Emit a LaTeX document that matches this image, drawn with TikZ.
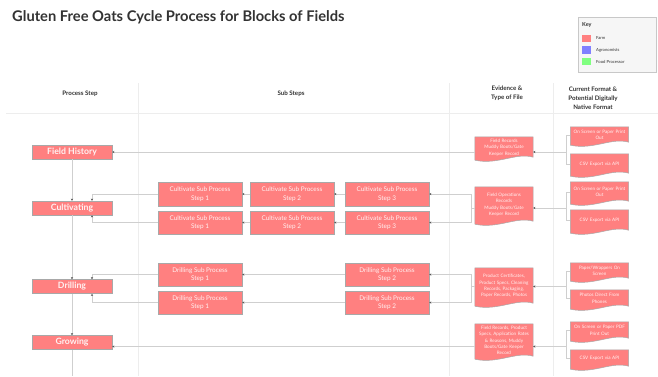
\documentclass[tikz,border=0pt]{standalone}
\usepackage{fontspec}
\setmainfont{Lato}
\usetikzlibrary{arrows.meta,calc}
\definecolor{farm}{HTML}{FF8080}
\definecolor{agro}{HTML}{8080FF}
\definecolor{food}{HTML}{80FF80}
\definecolor{boxline}{HTML}{A8A8A8}
\definecolor{boxtext}{HTML}{FFF2F2}
\definecolor{linegray}{HTML}{CFCFCF}
\definecolor{colgray}{HTML}{EDEDED}
\definecolor{tipgray}{HTML}{555555}
\definecolor{headtext}{HTML}{333333}
\definecolor{keyfill}{HTML}{F6F6F6}
\definecolor{keyline}{HTML}{C8C8C8}
\pgfdeclarelayer{bglayer}
\pgfdeclarelayer{doclayer}
\pgfsetlayers{bglayer,doclayer,main}
\newcommand\docpath[1]{%
  \filldraw[fill=farm,draw=boxline,line width=0.5pt]
    (#1.north west) -- (#1.north east) -- ($(#1.south east)+(0,-1)$)
    .. controls ($(#1.south east)!0.3!(#1.south west)+(0,-6)$)
    and ($(#1.south west)!0.4!(#1.south east)+(0,7)$)
    .. ($(#1.south west)+(0,2)$) -- cycle;}
\begin{document}
\begin{tikzpicture}[x=1pt,y=-1pt,
  proc/.style={fill=farm,draw=boxline,line width=0.5pt,minimum width=80pt,minimum height=14pt,inner sep=0pt,text=boxtext,font=\bfseries\fontsize{8.7}{10}\selectfont},
  subbox/.style={fill=farm,draw=boxline,line width=0.5pt,minimum width=84pt,minimum height=23.5pt,inner sep=0pt,align=center,text=boxtext,font=\fontsize{6.4}{8.6}\selectfont},
  evdoc/.style={inner sep=0pt,minimum width=58pt,text width=57pt,align=center,text=boxtext,font=\fontsize{4.6}{6.4}\selectfont},
  fmtdoc/.style={inner sep=0pt,minimum width=57pt,text width=58pt,align=center,text=boxtext,font=\fontsize{4.6}{6.4}\selectfont},
  head/.style={align=center,text=headtext,font=\bfseries\fontsize{6.2}{9}\selectfont},
  line/.style={draw=linegray,line width=0.6pt},
  conn/.style={line,-{Stealth[length=2.2pt,width=2.2pt,color=tipgray]}},
  colline/.style={draw=colgray,line width=0.7pt},
  swatch/.style={minimum width=9pt,minimum height=7.5pt,inner sep=0pt},
  keylbl/.style={anchor=west,inner sep=0pt,text=headtext,font=\fontsize{4.2}{5}\selectfont}
]
\useasboundingbox (0,0) rectangle (658,376);
\begin{pgfonlayer}{bglayer}
  \fill[white] (0,0) rectangle (658,376);
  \draw[colline] (6,113) -- (658,113);
  \draw[colline] (138,83) -- (138,376);
  \draw[colline] (449,83) -- (449,376);
  \draw[colline] (553,83) -- (553,376);
\end{pgfonlayer}

% title
\node[anchor=west,inner sep=0pt,text=headtext,font=\bfseries\fontsize{14.7}{16}\selectfont] (title) at (12,17) {Gluten Free Oats Cycle Process for Blocks of Fields};

% key
\node[draw=keyline,fill=keyfill,line width=0.5pt,minimum width=78pt,minimum height=55pt,inner sep=0pt] (key) at (617,44.5) {};
\node[anchor=west,inner sep=0pt,text=headtext,font=\bfseries\fontsize{5.5}{6}\selectfont] (keyt) at (582,25) {Key};
\node[swatch,fill=farm] (s1) at (586.5,38.5) {};
\node[swatch,fill=agro] (s2) at (586.5,50) {};
\node[swatch,fill=food] (s3) at (586.5,61.5) {};
\node[keylbl] (l1) at (596,38.5) {Farm};
\node[keylbl] (l2) at (596,50) {Agronomists};
\node[keylbl] (l3) at (596,61.5) {Food Processor};

% headers
\node[head] (h1) at (80,94) {Process Step};
\node[head] (h2) at (291,94) {Sub Steps};
\node[head] (h3) at (507,93.5) {Evidence \&\\Type of File};
\node[head] (h4) at (593,98) {Current Format \&\\Potential Digitally\\Native Format};

% process steps
\node[proc] (fh) at (72,152) {Field History};
\node[proc] (cult) at (72,208) {Cultivating};
\node[proc] (drill) at (72,286.5) {Drilling};
\node[proc] (grow) at (72,342.5) {Growing};
\coordinate (spineend) at (72,376);

% sub steps
\node[subbox] (c11) at (200,194) {Cultivate Sub Process\\Step 1};
\node[subbox] (c12) at (292,194) {Cultivate Sub Process\\Step 2};
\node[subbox] (c13) at (387,194) {Cultivate Sub Process\\Step 3};
\node[subbox] (c21) at (200,222.5) {Cultivate Sub Process\\Step 1};
\node[subbox] (c22) at (292,222.5) {Cultivate Sub Process\\Step 2};
\node[subbox] (c23) at (387,222.5) {Cultivate Sub Process\\Step 3};
\node[subbox] (d11) at (200,274.5) {Drilling Sub Process\\Step 1};
\node[subbox] (d12) at (387,274.5) {Drilling Sub Process\\Step 2};
\node[subbox] (d21) at (200,302.5) {Drilling Sub Process\\Step 1};
\node[subbox] (d22) at (387,302.5) {Drilling Sub Process\\Step 2};

% evidence documents
\node[evdoc,minimum height=21pt] (e1) at (504,147.5) {Field Records\\Muddy Boots/Gate\\Keeper Record};
\node[evdoc,minimum height=35pt] (ec) at (504,204.5) {Field Operations\\Records\\Muddy Boots/Gate\\Keeper Record};
\node[evdoc,minimum height=36pt] (ed) at (504,286) {Product Certificates,\\Product Specs, Cleaning\\Records, Packaging,\\Paper Records, Photos};
\node[evdoc,minimum height=33pt] (eg) at (504,340.5) {Field Records, Product\\Specs, Application Rates\\\& Reasons, Muddy\\Boots/Gate Keeper\\Record};

% format documents
\node[fmtdoc,minimum height=16pt] (f11) at (599.5,135) {On Screen or Paper Print\\Out};
\node[fmtdoc,minimum height=20pt] (f12) at (599.5,164) {CSV Export via API};
\node[fmtdoc,minimum height=20pt] (fc1) at (599.5,192) {On Screen or Paper Print\\Out};
\node[fmtdoc,minimum height=21pt] (fc2) at (599.5,220.5) {CSV Export via API};
\node[fmtdoc,minimum height=16pt] (fd1) at (599.5,271) {Paper/Wrappers On\\Screen};
\node[fmtdoc,minimum height=17pt] (fd2) at (599.5,298.5) {Photos Direct From\\Phones};
\node[fmtdoc,minimum height=17pt] (fg1) at (599.5,330.5) {On Screen or Paper PDF\\Print Out};
\node[fmtdoc,minimum height=17pt] (fg2) at (599.5,358.5) {CSV Export via API};

\begin{pgfonlayer}{doclayer}
  \docpath{e1}\docpath{ec}\docpath{ed}\docpath{eg}
  \docpath{f11}\docpath{f12}\docpath{fc1}\docpath{fc2}
  \docpath{fd1}\docpath{fd2}\docpath{fg1}\docpath{fg2}
\end{pgfonlayer}

% spine
\draw[conn] (fh.south) -- (cult.north);
\draw[conn] (cult.south) -- (drill.north);
\draw[conn] (drill.south) -- (grow.north);
\draw[line] (grow.south) -- (spineend);

% field history
\coordinate (fhy) at ([yshift=0pt]fh.east);
\draw[conn] (e1.west |- fhy) -- (fhy);
\draw[line] (f11.west) -- ++(-4,0) |- (f12.west);
\draw[conn] ($(f11.west |- fhy)+(-4,0)$) -- (e1.east |- fhy);

% cultivating
\draw[conn] (c11.west) -| ([xshift=20pt]cult.north);
\draw[conn] (c21.west) -| ([xshift=20pt]cult.south);
\draw[conn] (c12.west) -- (c11.east);
\draw[conn] (c22.west) -- (c21.east);
\draw[conn] (c13.west) -- (c12.east);
\draw[conn] (c23.west) -- (c22.east);
\draw[conn] (ec.west |- cult) -- ++(-4,0) |- (c13.east);
\draw[conn] (ec.west |- cult) -- ++(-4,0) |- (c23.east);
\draw[line] (fc1.west) -- ++(-4,0) |- (fc2.west);
\draw[conn] ($(fc1.west |- cult)+(-4,0)$) -- (ec.east |- cult);

% drilling
\draw[conn] (d11.west) -| ([xshift=20pt]drill.north);
\draw[conn] (d21.west) -| ([xshift=20pt]drill.south);
\draw[conn] (d12.west) -- (d11.east);
\draw[conn] (d22.west) -- (d21.east);
\draw[conn] (ed.west |- drill) -- ++(-4,0) |- (d12.east);
\draw[conn] (ed.west |- drill) -- ++(-4,0) |- (d22.east);
\draw[line] (fd1.west) -- ++(-4,0) |- (fd2.west);
\draw[conn] ($(fd1.west |- drill)+(-4,0)$) -- (ed.east |- drill);

% growing
\coordinate (gy) at ([yshift=-4pt]grow.east);
\draw[conn] (eg.west |- gy) -- (gy);
\draw[line] (fg1.west) -- ++(-4,0) |- (fg2.west);
\draw[conn] ($(fg1.west |- gy)+(-4,0)$) -- (eg.east |- gy);
\end{tikzpicture}
\end{document}
